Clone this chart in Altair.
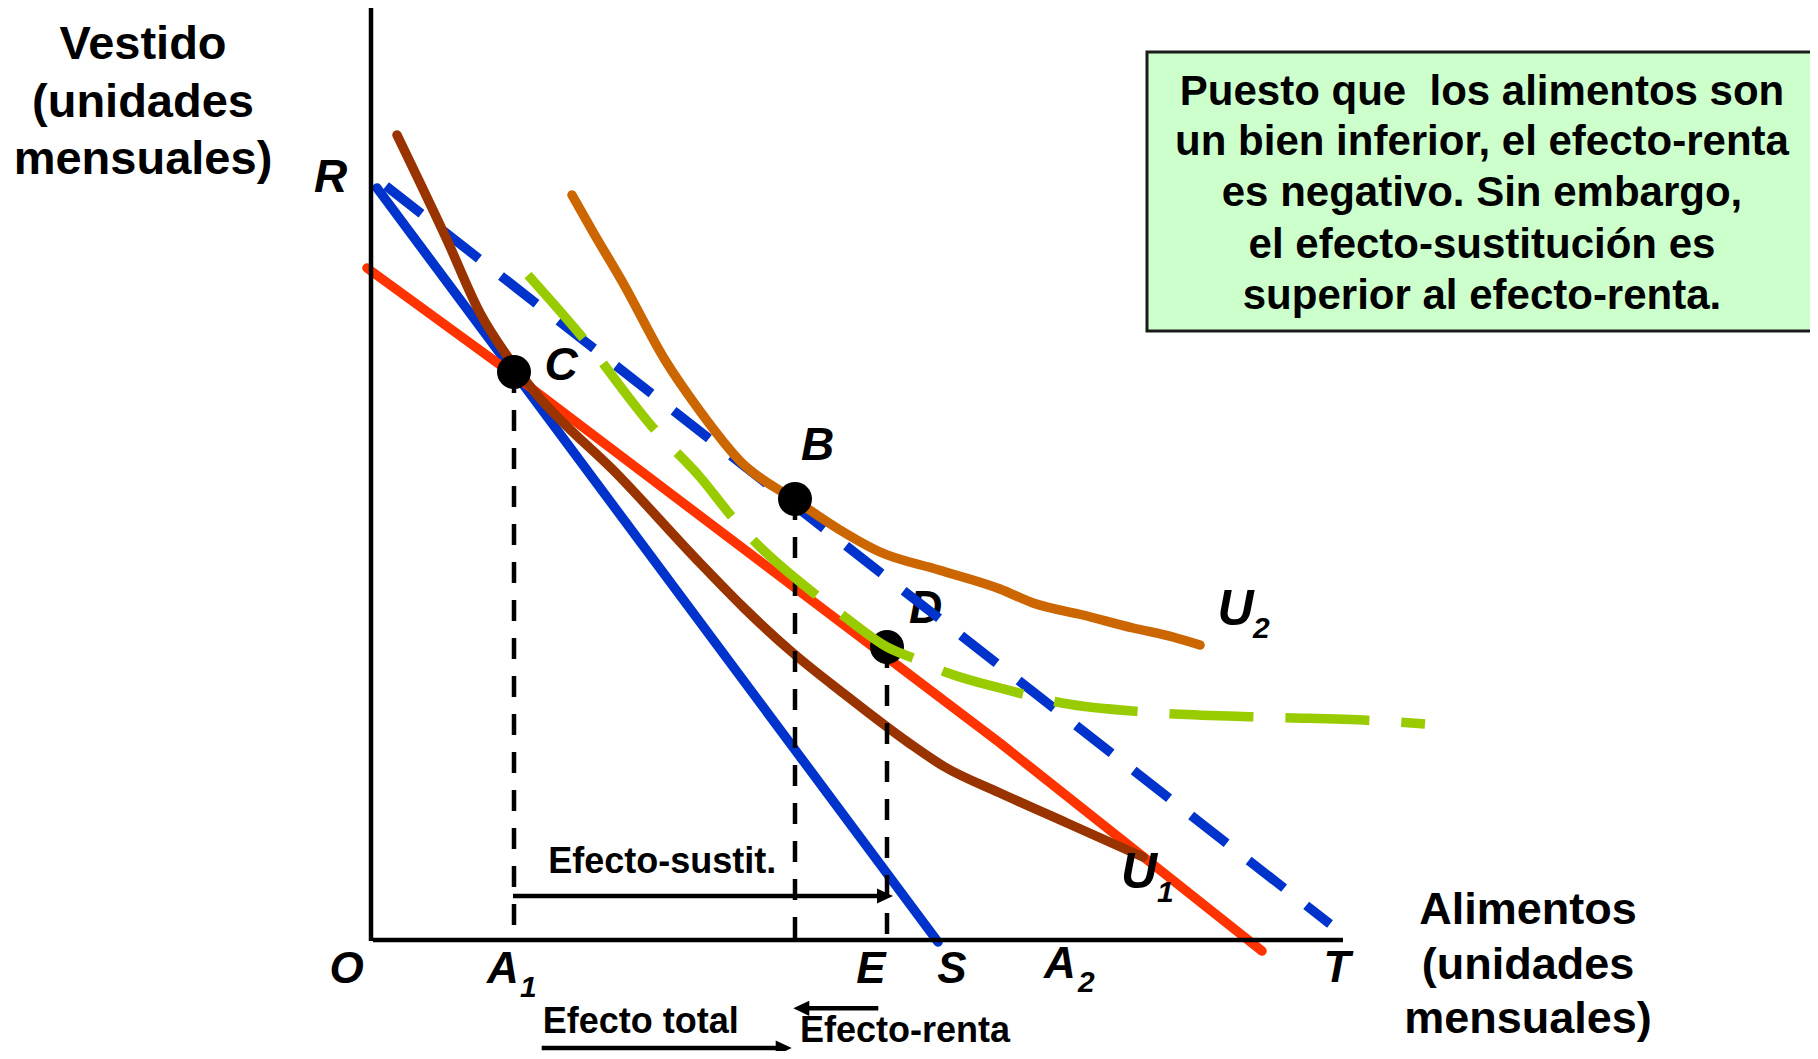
import altair as alt
import pandas as pd

# ---------------- data (x = Alimentos, y = Vestido, arbitrary units) ----------------
RS_x = [0.6, 56.7]            # original budget line R-S
RS_y = [75.2, -0.2]
RT_x = [1.5, 95.9]            # budget line after price fall R-T (dashed)
RT_y = [75.4, 1.6]
red_x = [-0.4, 14.3, 62.9, 89.1]   # compensated budget line
red_y = [67.2, 56.5, 19.7, -1.1]

U1_x = [2.6, 7.6, 10.9, 13.9, 16.2, 24.9, 32.9, 37.2, 42.2, 47.2, 53.8, 57.3, 62.9, 69.6, 77.2]
U1_y = [80.5, 70.0, 62.7, 58.0, 55.0, 46.3, 37.7, 33.3, 28.7, 24.7, 19.7, 17.35, 14.7, 11.7, 8.3]
U2_x = [20.1, 22.2, 25.2, 29.4, 32.6, 37.0, 42.4, 46.9, 50.9, 56.8, 62.9, 66.2, 71.2, 76.2, 80.2, 82.9]
U2_y = [74.5, 70.8, 65.7, 58.0, 53.3, 47.8, 44.0, 41.0, 38.8, 37.0, 35.1, 33.7, 32.5, 31.2, 30.3, 29.5]
UG_x = [15.7, 21.2, 28.4, 32.9, 36.2, 38.4, 44.9, 47.4, 51.6, 54.7, 57.7, 62.9, 69.1, 77.4, 89.1, 100.9, 105.4]
UG_y = [66.5, 60.2, 51.0, 46.3, 42.2, 39.8, 34.2, 32.3, 29.3, 28.0, 26.7, 25.2, 23.7, 22.8, 22.3, 21.9, 21.6]

pt_name = ["C", "B", "D"]
pt_x = [14.3, 42.4, 51.6]
pt_y = [56.8, 44.1, 29.3]

x_axis_end = 97.2
y_axis_top = 93.2

left_title = ["Vestido", "(unidades", "mensuales)"]
right_title = ["Alimentos", "(unidades", "mensuales)"]
note_lines = ["Puesto que\u00a0 los alimentos son",
              "un bien inferior, el efecto-renta",
              "es negativo. Sin embargo,",
              "el efecto-sustitución es",
              "superior al efecto-renta."]

# ---------------- layout ----------------
X_DOM = [-36.3, 143.9]
Y_DOM = [-11.1, 93.2]
FONT = "Liberation Sans, Arial, Helvetica, sans-serif"
xs = alt.Scale(domain=X_DOM, nice=False, zero=False)
ys = alt.Scale(domain=Y_DOM, nice=False, zero=False)

BLUE = "#0033CC"
RED = "#FF3300"
BROWN = "#993300"
ORANGE = "#CC6600"
GREEN = "#99CC00"


def XQ(f="x"):
    return alt.X(f + ":Q", scale=xs, axis=None)


def YQ(f="y"):
    return alt.Y(f + ":Q", scale=ys, axis=None)


def curve(xv, yv, color, width, dash=None, cap="round", interp="linear"):
    df = pd.DataFrame({"x": xv, "y": yv, "o": list(range(len(xv)))})
    kw = dict(color=color, strokeWidth=width, strokeCap=cap, strokeJoin="round",
              interpolate=interp)
    if dash:
        kw["strokeDash"] = dash
    return alt.Chart(df).mark_line(**kw).encode(x=XQ(), y=YQ(), order="o:Q")


def rules(x1, y1, x2, y2, width, dash=None, color="black"):
    df = pd.DataFrame({"x": x1, "y": y1, "x2": x2, "y2": y2})
    kw = dict(color=color, strokeWidth=width, strokeCap="butt")
    if dash:
        kw["strokeDash"] = dash
    return alt.Chart(df).mark_rule(**kw).encode(
        x=XQ(), y=YQ(), x2=alt.X2("x2:Q"), y2=alt.Y2("y2:Q"))


def texts(labels, xv, yv, size, align="center", italic=False):
    df = pd.DataFrame({"x": xv, "y": yv, "t": labels})
    return alt.Chart(df).mark_text(
        font=FONT, fontSize=size, fontWeight="bold",
        fontStyle="italic" if italic else "normal",
        align=align, baseline="alphabetic", color="black",
    ).encode(x=XQ(), y=YQ(), text="t:N")


def heads(xv, yv, shape):
    df = pd.DataFrame({"x": xv, "y": yv})
    return alt.Chart(df).mark_point(shape=shape, size=256, filled=True,
                                    color="black", opacity=1, strokeWidth=0
                                    ).encode(x=XQ(), y=YQ())


box = alt.Chart(pd.DataFrame({"x": [77.6], "x2": [150.0], "y": [60.9], "y2": [88.8]})).mark_rect(
    fill="#CCFFCC", stroke="#1a1a1a", strokeWidth=3
).encode(x=XQ(), x2=alt.X2("x2:Q"), y=YQ(), y2=alt.Y2("y2:Q"))

axes = rules([0, 0.2], [-0.1, 0], [0, x_axis_end], [y_axis_top, 0], 4.5)

verticals = rules(pt_x, pt_y, pt_x, [0, 0, 0], 4.5, dash=[21, 17])

dots = alt.Chart(pd.DataFrame({"x": pt_x, "y": pt_y, "n": pt_name})).mark_circle(
    size=1156, color="black", opacity=1).encode(x=XQ(), y=YQ())

arrows = rules([14.2, 17.07, 50.73], [4.4, -10.8, -6.83],
               [51.4, 41.3, 43.0], [4.4, -10.8, -6.83], 4.5)
arrow_heads_r = heads([52.2, 42.07], [4.4, -10.8], "M-2,-0.95L0,0L-2,0.95Z")
arrow_heads_l = heads([42.23], [-6.83], "M2,-0.95L0,0L2,0.95Z")

layers = [
    box,
    curve(RS_x, RS_y, BLUE, 9.5),
    curve(red_x, red_y, RED, 9.5),
    texts(["D"], [55.45], [31.7], 46, italic=True),
    curve(RT_x, RT_y, BLUE, 9.5, dash=[45, 28], cap="butt"),
    curve(U1_x, U1_y, BROWN, 9.5, interp="monotone"),
    curve(U2_x, U2_y, ORANGE, 9.5, interp="monotone"),
    verticals,
    dots,
    curve(UG_x, UG_y, GREEN, 9.5, dash=[84, 32], cap="butt", interp="monotone"),
    axes,
    arrows, arrow_heads_r, arrow_heads_l,
    texts(left_title, [-22.8] * 3, [88.1, 82.35, 76.6], 47),
    texts(right_title, [115.7] * 3, [1.64, -3.9, -9.3], 45),
    texts(note_lines, [111.1] * 5, [83.53, 78.46, 73.4, 68.16, 63.1], 42),
    texts(["Efecto-sustit.", "Efecto total", "Efecto-renta"],
          [17.73, 17.17, 42.9], [6.7, -9.3, -10.2], 36, align="left"),
    texts(["O", "A", "E", "S", "A", "T"],
          [-2.43, 13.2, 50.0, 58.1, 68.9, 96.6],
          [-4.3, -4.3, -4.3, -4.3, -3.8, -4.2], 44, italic=True),
    texts(["1", "2", "1", "2"], [14.9, 70.7, 78.6, 88.2], [-5.7, -5.2, 3.8, 30.2], 30,
          align="left", italic=True),
    texts(["U", "U"], [76.8, 86.45], [5.2, 31.5], 50, italic=True),
    texts(["R", "C", "B"], [-4.05, 19.0, 44.65], [74.8, 56.0, 48.0], 46, italic=True),
]

chart = alt.layer(*layers).properties(
    width=1802, height=1043, padding=0,
    autosize=alt.AutoSizeParams(type="none"),
    background="white",
).configure_view(stroke=None)

chart.save("out.html", embed_options={"renderer": "svg", "actions": False})
